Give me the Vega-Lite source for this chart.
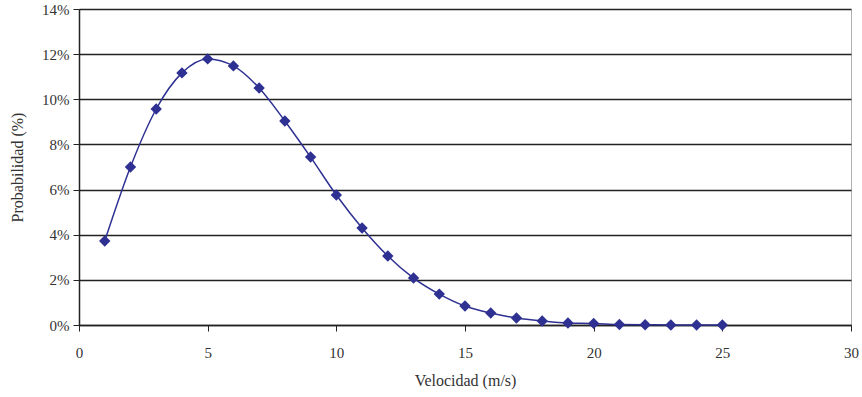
{
  "$schema": "https://vega.github.io/schema/vega-lite/v6.json",
  "autosize": "none",
  "padding": {"left": 79, "top": 9, "right": 11, "bottom": 72},
  "width": 772,
  "height": 316,
  "background": "white",
  "config": {
    "view": {"stroke": "#b0b0b0", "strokeWidth": 1},
    "font": "Liberation Serif"
  },
  "data": {
    "values": [
      {"v": 1, "p": 0.0372},
      {"v": 2, "p": 0.0700},
      {"v": 3, "p": 0.0957},
      {"v": 4, "p": 0.1117},
      {"v": 5, "p": 0.1179},
      {"v": 6, "p": 0.1148},
      {"v": 7, "p": 0.1050},
      {"v": 8, "p": 0.0904},
      {"v": 9, "p": 0.0744},
      {"v": 10, "p": 0.0576},
      {"v": 11, "p": 0.0430},
      {"v": 12, "p": 0.0306},
      {"v": 13, "p": 0.0208},
      {"v": 14, "p": 0.0137},
      {"v": 15, "p": 0.0084},
      {"v": 16, "p": 0.0053},
      {"v": 17, "p": 0.0031},
      {"v": 18, "p": 0.0018},
      {"v": 19, "p": 0.0009},
      {"v": 20, "p": 0.0007},
      {"v": 21, "p": 0.0002},
      {"v": 22, "p": 0.0001},
      {"v": 23, "p": 0.0},
      {"v": 24, "p": 0.0},
      {"v": 25, "p": 0.0}
    ]
  },
  "encoding": {
    "x": {
      "field": "v", "type": "quantitative",
      "scale": {"domain": [0, 30], "nice": false, "zero": true},
      "axis": {
        "title": "Velocidad (m/s)",
        "values": [0, 5, 10, 15, 20, 25, 30],
        "grid": false, "labelFlush": false,
        "domainColor": "#222", "domainWidth": 1.5,
        "tickColor": "#222", "tickSize": 6, "tickWidth": 1,
        "labelFontSize": 15, "labelColor": "#333", "labelPadding": 14,
        "titleFontSize": 16, "titleFontWeight": "normal", "titleColor": "#333", "titlePadding": 12
      }
    },
    "y": {
      "field": "p", "type": "quantitative",
      "scale": {"domain": [0, 0.14], "nice": false},
      "axis": {
        "title": "Probabilidad (%)",
        "format": ".0%",
        "values": [0, 0.02, 0.04, 0.06, 0.08, 0.1, 0.12, 0.14],
        "grid": true, "gridColor": "#222", "gridWidth": 1.5, "gridOpacity": 1,
        "labelFlush": false,
        "domainColor": "#222", "domainWidth": 1.5,
        "tickColor": "#222", "tickSize": 6, "tickWidth": 1,
        "labelFontSize": 15, "labelColor": "#333", "labelPadding": 4,
        "titleFontSize": 16, "titleFontWeight": "normal", "titleColor": "#333", "titlePadding": 16
      }
    }
  },
  "layer": [
    {"mark": {"type": "line", "interpolate": "monotone", "color": "#2E3192", "strokeWidth": 1.5}},
    {"mark": {"type": "point", "shape": "diamond", "filled": true, "size": 130, "color": "#2E3192", "opacity": 1}}
  ]
}
